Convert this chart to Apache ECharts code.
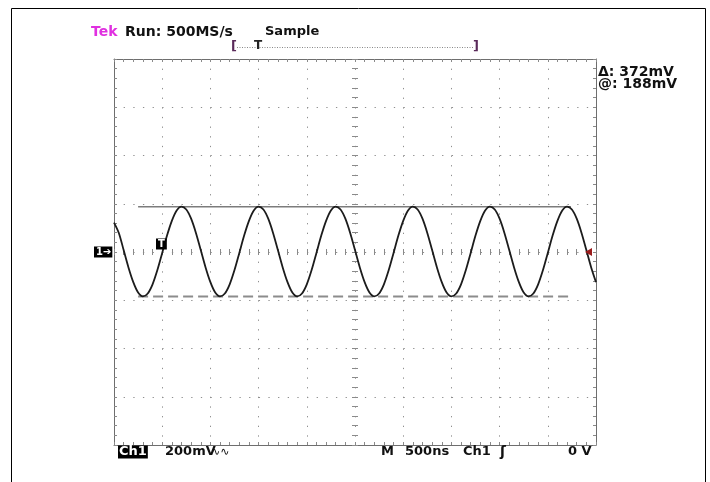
<!DOCTYPE html>
<html><head><meta charset="utf-8">
<script src="https://cdn.jsdelivr.net/npm/echarts@6/dist/echarts.min.js"></script>
<style>html,body{margin:0;padding:0;background:#fff}#c{width:710px;height:482px}</style>
</head><body><div id="c"></div>
<script>
// Time axis (ns), 10 divisions x 500 ns
const timeNs = [0,50,100,150,200,250,300,350,400,450,500,550,600,650,700,750,
800,850,900,950,1000,1050,1100,1150,1200,1250,1300,1350,1400,1450,1500,1550,
1600,1650,1700,1750,1800,1850,1900,1950,2000,2050,2100,2150,2200,2250,2300,2350,
2400,2450,2500,2550,2600,2650,2700,2750,2800,2850,2900,2950,3000,3050,3100,3150,
3200,3250,3300,3350,3400,3450,3500,3550,3600,3650,3700,3750,3800,3850,3900,3950,
4000,4050,4100,4150,4200,4250,4300,4350,4400,4450,4500,4550,4600,4650,4700,4750,
4800,4850,4900,4950,5000];
// Ch1 trace (mV)
const traceMv = [122,79,8,-64,-125,-168,-184,-172,-134,-75,-4,68,129,172,188,176,
138,79,8,-64,-125,-168,-184,-172,-134,-75,-4,68,129,172,188,176,
138,79,8,-64,-125,-168,-184,-172,-134,-75,-4,68,129,172,188,176,
138,79,8,-64,-125,-168,-184,-172,-134,-75,-4,68,129,172,188,176,
138,79,8,-64,-125,-168,-184,-172,-134,-75,-4,68,129,172,188,176,
138,79,8,-64,-125,-168,-184,-172,-134,-75,-4,68,129,172,188,176,
138,79,8,-64,-125];
// Cursors
const cursorTimes = [250, 4740];
const cursorTopMv = 188;      // "@: 188mV"
const cursorDeltaMv = 372;    // "Δ: 372mV"
const cursorBottomMv = cursorTopMv - cursorDeltaMv;
// Axis ranges
const xRange = [0, 5000], xDiv = 500;
const yRange = [-800, 800], yDiv = 200;

const trace = timeNs.map((t, i) => [t, traceMv[i]]);
const topCur = cursorTimes.map(t => [t, cursorTopMv]);
const botCur = cursorTimes.map(t => [t, cursorBottomMv]);

const GRID = {left: 114, top: 59, width: 482, height: 386};
const GC = '#8a8a8a';
const dots = {color: '#8f8f8f', width: 1, type: [1.3, 8.35]};

function borderAxis(extra) {
  return Object.assign({
    type: 'value', gridIndex: 0,
    axisLine: {show: true, onZero: false, lineStyle: {color: '#6e6e6e', width: 1}},
    axisTick: {show: true, inside: true, length: 3, lineStyle: {color: GC}},
    minorTick: {show: true, splitNumber: 5, length: 3, lineStyle: {color: GC}},
    axisLabel: {show: false}, splitLine: {show: false}
  }, extra);
}
function centerAxis(extra) {
  return Object.assign({
    type: 'value', gridIndex: 1,
    axisLine: {show: false, onZero: true},
    axisTick: {show: true, inside: true, length: 3, lineStyle: {color: GC}},
    minorTick: {show: true, splitNumber: 5, length: 3, lineStyle: {color: GC}},
    axisLabel: {show: false}, splitLine: {show: false}
  }, extra);
}

const FB = '"DejaVu Sans", Verdana, sans-serif';
function txt(x, y, s, opt) {
  opt = opt || {};
  return {type: 'text', x: x, y: y, z: 100, silent: true,
    style: Object.assign({text: s, fill: '#111', font: 'bold 13px ' + FB, align: 'left', verticalAlign: 'middle'}, opt)};
}

const chart = echarts.init(document.getElementById('c'), null, {renderer: 'canvas'});
chart.setOption({
  animation: false,
  backgroundColor: '#fff',
  grid: [Object.assign({}, GRID), Object.assign({}, GRID)],
  xAxis: [
    borderAxis({min: xRange[0], max: xRange[1], interval: xDiv, position: 'bottom',
      splitLine: {show: true, lineStyle: dots}}),
    borderAxis({min: xRange[0], max: xRange[1], interval: xDiv, position: 'top'}),
    centerAxis({min: -2500, max: 2500, interval: xDiv, position: 'bottom'}),
    centerAxis({min: -2500, max: 2500, interval: xDiv, position: 'top'})
  ],
  yAxis: [
    borderAxis({min: yRange[0], max: yRange[1], interval: yDiv, position: 'left',
      splitLine: {show: true, lineStyle: dots}}),
    borderAxis({min: yRange[0], max: yRange[1], interval: yDiv, position: 'right'}),
    centerAxis({min: yRange[0], max: yRange[1], interval: yDiv, position: 'left'}),
    centerAxis({min: yRange[0], max: yRange[1], interval: yDiv, position: 'right'})
  ],
  series: [
    {type: 'line', xAxisIndex: 0, yAxisIndex: 0, data: topCur, showSymbol: false, z: 3,
      lineStyle: {color: '#7c7c7c', width: 1.5}},
    {type: 'line', xAxisIndex: 0, yAxisIndex: 0, data: botCur, showSymbol: false, z: 3,
      lineStyle: {color: '#8c8c8c', width: 2, type: [10, 5]}},
    {type: 'line', xAxisIndex: 0, yAxisIndex: 0, data: trace, showSymbol: false, smooth: 0.3, z: 5,
      lineStyle: {color: '#1c1c1c', width: 1.8}}
  ],
  graphic: [
    {type: 'rect', silent: true, z: 100, shape: {x: 11.5, y: 8.5, width: 694, height: 480},
      style: {fill: 'none', stroke: '#000', lineWidth: 1}},
    txt(91, 32, 'Tek', {fill: '#e030e0', font: 'bold 14px ' + FB}),
    txt(125, 32, 'Run: 500MS/s', {font: 'bold 14px ' + FB}),
    txt(265, 32, 'Sample', {font: 'bold 13px ' + FB}),
    {type: 'line', silent: true, z: 99, shape: {x1: 237, y1: 47.5, x2: 474, y2: 47.5},
      style: {stroke: '#888', lineWidth: 1, lineDash: [1, 1.5]}},
    txt(231, 47, '[', {fill: '#5a2a5a', font: 'bold 13px ' + FB}),
    txt(473, 47, ']', {fill: '#5a2a5a', font: 'bold 13px ' + FB}),
    txt(254, 46, 'T', {fill: '#222', font: 'bold 12px ' + FB}),
    txt(598, 72, 'Δ: 372mV', {font: 'bold 14px ' + FB}),
    txt(598, 84, '@: 188mV', {font: 'bold 14px ' + FB}),
    txt(118, 452, 'Ch1', {fill: '#fff', backgroundColor: '#000', padding: [0, 1, 0, 1], font: 'bold 13px ' + FB}),
    txt(165, 452, '200mV', {font: 'bold 13px ' + FB}),
    txt(211, 452, '∿∿', {font: '11px ' + FB}),
    txt(381, 452, 'M', {font: 'bold 13px ' + FB}),
    txt(405, 452, '500ns', {font: 'bold 13px ' + FB}),
    txt(463, 452, 'Ch1', {font: 'bold 13px ' + FB}),
    txt(500, 452, 'ʃ', {font: 'bold 14px ' + FB}),
    txt(568, 452, '0 V', {font: 'bold 13px ' + FB}),
    txt(94, 252, '1➔', {fill: '#fff', backgroundColor: '#000', padding: [1, 1, 0, 2], font: 'bold 10px ' + FB}),
    txt(156, 244, 'T', {fill: '#fff', backgroundColor: '#000', padding: [1, 2, 0, 2], font: 'bold 10px ' + FB}),
    {type: 'polygon', silent: true, z: 100, shape: {points: [[585, 252], [592, 248], [592, 256]]},
      style: {fill: '#9b1c1c'}}
  ]
});
</script></body></html>
